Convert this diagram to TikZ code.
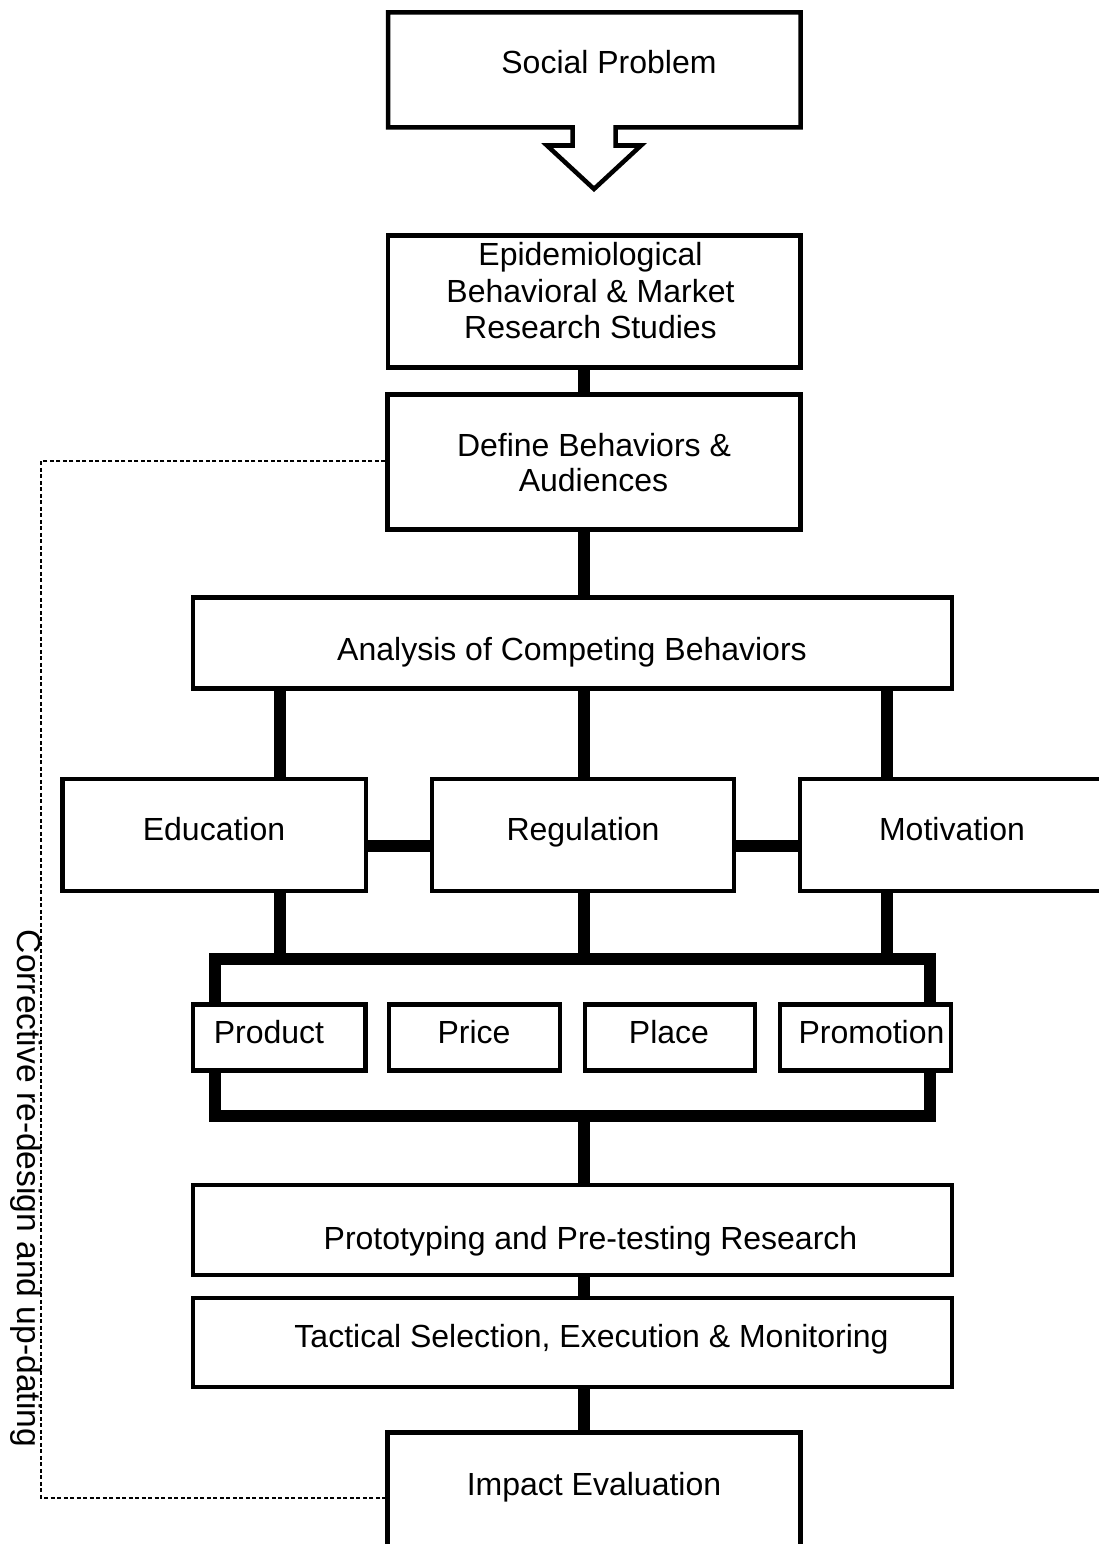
\documentclass[tikz,border=0pt]{standalone}
\usepackage{fontspec}
\setmainfont{Liberation Sans}
\usetikzlibrary{calc}
\begin{document}
\begin{tikzpicture}[x=1pt,y=-1pt,
  box/.style={draw, line width=4.5pt, fill=white, inner sep=0pt},
  conn/.style={line width=12pt},
  lbl/.style={anchor=base, inner sep=0pt, font=\fontsize{32}{36.5}\selectfont},
  feedback/.style={line width=1.3pt, dash pattern=on 4pt off 2.5pt}]
\useasboundingbox (0,0) rectangle (1099,1544);
\fill[white] (0,0) rectangle (1099,1544);

% column and row positions of the connectors
\coordinate (spine) at (583.5,0);
\coordinate (lcol) at (279.5,0);
\coordinate (rcol) at (886.5,0);
\coordinate (midrow) at (0,845.5);
\coordinate (fbtop) at (41,461);
\coordinate (fbbot) at (41,1498);

% problem box with its down-pointing arrow
\draw[line width=4.5pt, line join=miter]
  (388,12.5) -- (800.5,12.5) -- (800.5,127.5) -- (615.5,127.5) -- (615.5,145.5)
  -- (641,145.5) -- (594,189) -- (547,145.5) -- (572.5,145.5) -- (572.5,127.5)
  -- (388,127.5) -- cycle;
\node[lbl] (soc) at (609,74) {Social Problem};

% the mix frame behind the four P boxes
\node[draw, line width=12pt, inner sep=0pt, minimum width=715pt, minimum height=157pt] (mix) at (572.5,1037.5) {};

% main boxes
\node[box, minimum width=412.5pt, minimum height=132pt] (epi) at (594.25,301.5) {};
\node[box, minimum width=413pt, minimum height=135pt] (def) at (594,462) {};
\node[box, minimum width=759pt, minimum height=91pt] (ana) at (572.5,643) {};
\node[box, minimum width=303.5pt, minimum height=112pt] (edu) at (214.25,835) {};
\node[box, minimum width=302pt, minimum height=112pt] (reg) at (583,835) {};
\node[box, minimum width=306pt, minimum height=112pt] (mot) at (953,835) {};
\node[box, minimum width=172.5pt, minimum height=66pt] (prod) at (279.25,1037.5) {};
\node[box, minimum width=171pt, minimum height=66pt] (price) at (474.5,1037.5) {};
\node[box, minimum width=170pt, minimum height=66pt] (place) at (670,1037.5) {};
\node[box, minimum width=171pt, minimum height=66pt] (promo) at (865.5,1037.5) {};
\node[box, minimum width=759pt, minimum height=90pt] (pro) at (572.5,1230) {};
\node[box, minimum width=759pt, minimum height=89pt] (tac) at (572.5,1342.5) {};
\node[box, minimum width=413pt, minimum height=147pt] (imp) at (594,1506) {};

% thick connectors
\draw[conn] (epi.south -| spine) -- (def.north -| spine);
\draw[conn] (def.south -| spine) -- (ana.north -| spine);
\draw[conn] (ana.south -| lcol) -- (edu.north -| lcol);
\draw[conn] (ana.south -| spine) -- (reg.north -| spine);
\draw[conn] (ana.south -| rcol) -- (mot.north -| rcol);
\draw[conn] (edu.east |- midrow) -- (reg.west |- midrow);
\draw[conn] (reg.east |- midrow) -- (mot.west |- midrow);
\draw[conn] (edu.south -| lcol) -- (mix.north -| lcol);
\draw[conn] (reg.south -| spine) -- (mix.north -| spine);
\draw[conn] (mot.south -| rcol) -- (mix.north -| rcol);
\draw[conn] (mix.south -| spine) -- (pro.north -| spine);
\draw[conn] (pro.south -| spine) -- (tac.north -| spine);
\draw[conn] (tac.south -| spine) -- (imp.north -| spine);

% feedback loop
\draw[feedback] (def.west |- fbtop) -- (fbtop) -- (fbbot) -- (imp.west |- fbbot);
\node[lbl, font=\fontsize{33.6}{38}\selectfont, rotate=-90] (loop) at (17,1188.5) {Corrective re-design and up-dating};

% labels
\node[lbl] (epi1) at (590.5,265) {Epidemiological};
\node[lbl] (epi2) at (590.5,302) {Behavioral \& Market};
\node[lbl] (epi3) at (590.5,338) {Research Studies};
\node[lbl] (def1) at (594,456.5) {Define Behaviors \&};
\node[lbl] (def2) at (593.5,491.5) {Audiences};
\node[lbl] (anat) at (572,660) {Analysis of Competing Behaviors};
\node[lbl] (edut) at (214,840) {Education};
\node[lbl] (regt) at (583,840) {Regulation};
\node[lbl] (mott) at (952,840) {Motivation};
\node[lbl] (prodt) at (269,1043) {Product};
\node[lbl] (pricet) at (474,1043) {Price};
\node[lbl] (placet) at (669,1043) {Place};
\node[lbl] (promot) at (871.5,1043) {Promotion};
\node[lbl] (prot) at (590.5,1249) {Prototyping and Pre-testing Research};
\node[lbl] (tact) at (591.5,1347) {Tactical Selection, Execution \& Monitoring};
\node[lbl] (impt) at (594,1495) {Impact Evaluation};
\end{tikzpicture}
\end{document}
